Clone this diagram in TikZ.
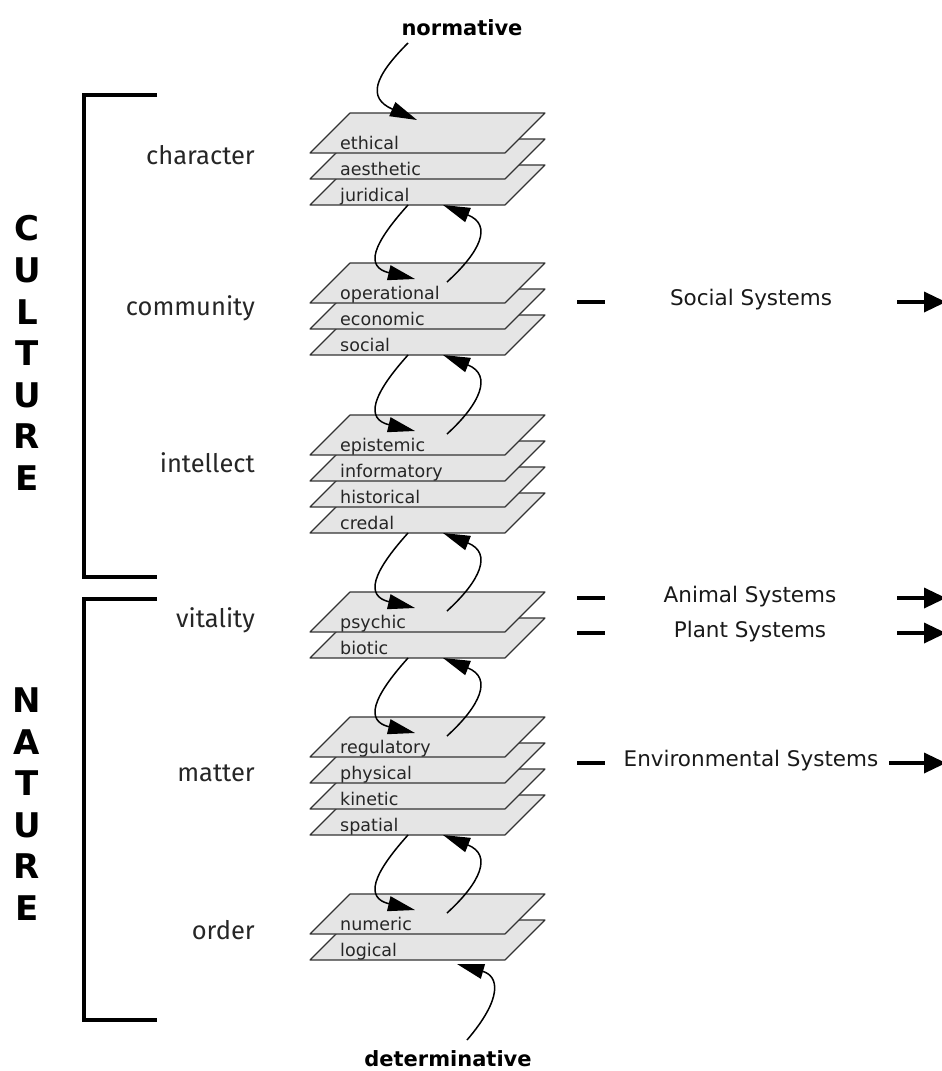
\documentclass[tikz,border=0pt]{standalone}
\usepackage{fontspec}
\setmainfont{DejaVu Sans}
\newfontfamily\levelfont{Fira Sans}
\usetikzlibrary{arrows.meta}

% one sheet of the stack: name, y of the lower edge, label
\newcommand{\stratum}[3]{%
  \draw[plane] (310,#2) -- (505,#2) -- (545,#2-40) -- (350,#2-40) -- cycle;
  \node[planetext] (#1) at (340,#2-4) {#3};
  \coordinate (#1-in) at (415,#2-24);
  \coordinate (#1-out) at (447,#2-21);
  \coordinate (#1-down) at (408,#2);
  \coordinate (#1-up) at (443,#2);
}

\tikzset{
  plane/.style={draw=black!80, fill=gray!20, line width=1.1pt, line join=round},
  planetext/.style={anchor=base west, inner sep=0pt, text=black!85, font=\fontsize{17.5}{17.5}\selectfont},
  leveltext/.style={anchor=east, inner sep=0pt, text=black!85, font=\levelfont\fontsize{25.5}{25.5}\selectfont},
  systext/.style={inner sep=0pt, text=black!90, font=\fontsize{21.5}{21.5}\selectfont},
  headtext/.style={inner sep=0pt, font=\bfseries\fontsize{21}{21}\selectfont},
  bigletters/.style={inner sep=0pt, align=center, font=\bfseries\fontsize{34}{41.6}\selectfont},
  bracket/.style={line width=4.5pt, line join=miter},
  flow/.style={line width=1.5pt, -{Triangle[length=27pt,width=15pt]}},
  sysdash/.style={line width=4pt},
  sysarrow/.style={line width=3.5pt, -{Triangle[length=22pt,width=20pt]}}
}

\begin{document}
\begin{tikzpicture}[x=1pt,y=-1pt]
\useasboundingbox (0,0) rectangle (942,1071);

% brackets and side words
\draw[bracket] (157,95) -- (84,95) -- (84,577) -- (157,577);
\draw[bracket] (157,599) -- (84,599) -- (84,1020) -- (157,1020);
\node[bigletters] (culture) at (27,353) {C\\U\\L\\T\\U\\R\\E};
\node[bigletters] (nature) at (27,804) {N\\A\\T\\U\\R\\E};

% levels
\node[leveltext] (character) at (255,155) {character};
\node[leveltext] (community) at (255,308) {community};
\node[leveltext] (intellect) at (255,463) {intellect};
\node[leveltext] (vitality) at (255,620) {vitality};
\node[leveltext] (matter) at (255,773) {matter};
\node[leveltext] (order) at (255,930) {order};

% the stacks
\stratum{juridical}{205}{juridical}
\stratum{aesthetic}{179}{aesthetic}
\stratum{ethical}{153}{ethical}

\stratum{social}{355}{social}
\stratum{economic}{329}{economic}
\stratum{operational}{303}{operational}

\stratum{credal}{533}{credal}
\stratum{historical}{507}{historical}
\stratum{informatory}{481}{informatory}
\stratum{epistemic}{455}{epistemic}

\stratum{biotic}{658}{biotic}
\stratum{psychic}{632}{psychic}

\stratum{spatial}{835}{spatial}
\stratum{kinetic}{809}{kinetic}
\stratum{physical}{783}{physical}
\stratum{regulatory}{757}{regulatory}

\stratum{logical}{960}{logical}
\stratum{numeric}{934}{numeric}

% top and bottom
\node[headtext] (normative) at (462,28) {normative};
\node[headtext] (determinative) at (448,1059) {determinative};
\coordinate (norm-start) at (408,43);
\coordinate (ethical-top) at (417,120);
\coordinate (det-start) at (467,1040);
\coordinate (logical-below) at (457,964);

\draw[flow] (norm-start) .. controls +(-34,34) and +(-50,-22) .. (ethical-top);
\draw[flow] (det-start) .. controls +(36,-42) and +(42,12) .. (logical-below);

% between the stacks
\draw[flow] (juridical-down) .. controls +(-36,40) and +(-50,-12) .. (operational-in);
\draw[flow] (operational-out) .. controls +(33,-30) and +(50,20) .. (juridical-up);
\draw[flow] (social-down) .. controls +(-36,40) and +(-50,-12) .. (epistemic-in);
\draw[flow] (epistemic-out) .. controls +(33,-30) and +(50,20) .. (social-up);
\draw[flow] (credal-down) .. controls +(-36,40) and +(-50,-12) .. (psychic-in);
\draw[flow] (psychic-out) .. controls +(33,-30) and +(50,20) .. (credal-up);
\draw[flow] (biotic-down) .. controls +(-36,40) and +(-50,-12) .. (regulatory-in);
\draw[flow] (regulatory-out) .. controls +(33,-30) and +(50,20) .. (biotic-up);
\draw[flow] (spatial-down) .. controls +(-36,40) and +(-50,-12) .. (numeric-in);
\draw[flow] (numeric-out) .. controls +(33,-30) and +(50,20) .. (spatial-up);

% systems on the right
\node[systext] (socsys) at (751,300) {Social Systems};
\node[systext] (animsys) at (750,597) {Animal Systems};
\node[systext] (plantsys) at (750,632) {Plant Systems};
\node[systext] (envsys) at (751,761) {Environmental Systems};
\draw[sysdash] (577,302) -- (605,302);
\draw[sysdash] (577,598) -- (605,598);
\draw[sysdash] (577,633) -- (605,633);
\draw[sysdash] (577,763) -- (605,763);
\draw[sysarrow] (897,302) -- (946,302);
\draw[sysarrow] (897,598) -- (946,598);
\draw[sysarrow] (897,633) -- (946,633);
\draw[sysarrow] (889,763) -- (946,763);
\end{tikzpicture}
\end{document}
